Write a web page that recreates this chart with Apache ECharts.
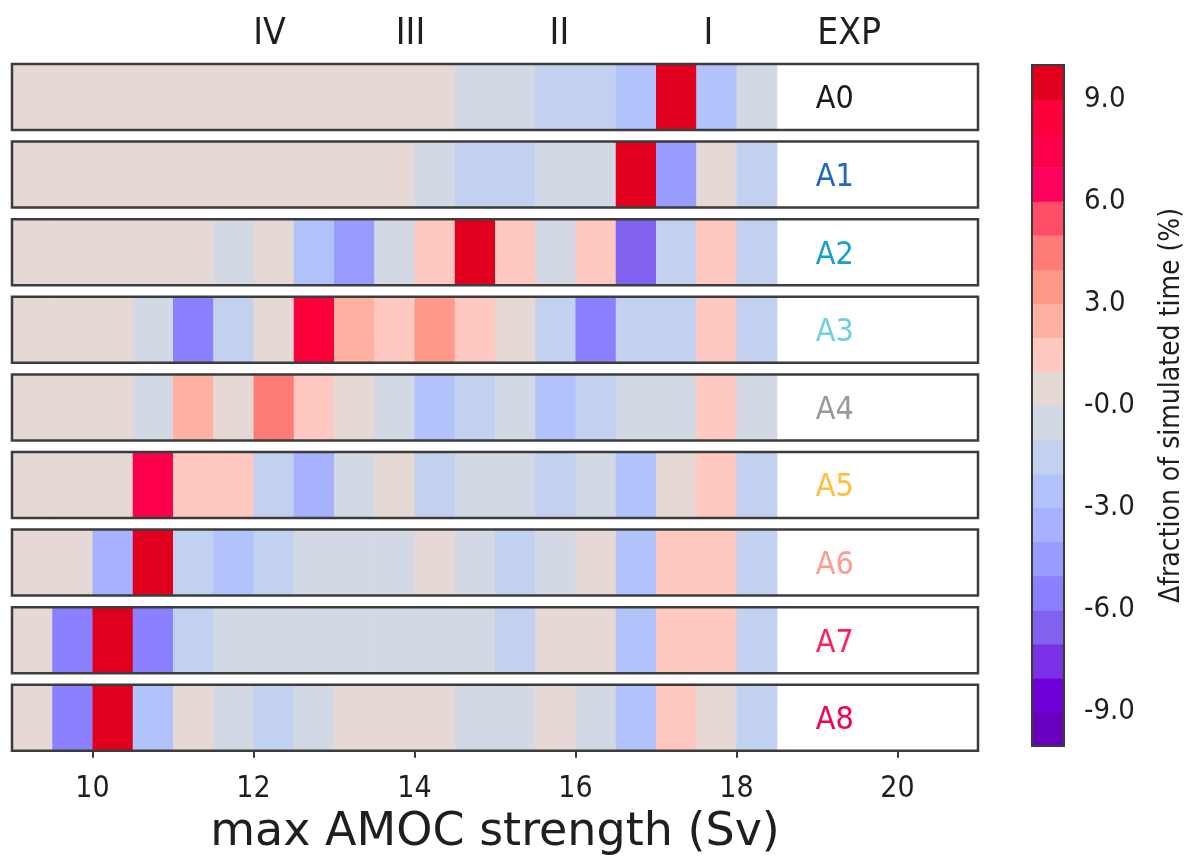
<!DOCTYPE html>
<html>
<head>
<meta charset="utf-8">
<title>max AMOC strength</title>
<script src="https://cdn.jsdelivr.net/npm/echarts@6/dist/echarts.min.js"></script>
<style>
  html, body { margin: 0; padding: 0; background: #ffffff; }
  #chart { width: 1192px; height: 859px; }
</style>
</head>
<body>
<div id="chart"></div>
<script>
// Experiments, one strip each, top to bottom
const experiments = ['A0', 'A1', 'A2', 'A3', 'A4', 'A5', 'A6', 'A7', 'A8'];
const experimentColors = ['#1a1a1a', '#2166c2', '#179fd2', '#6fd0e2', '#9a9a9a',
                          '#ffbf3c', '#ff9c8e', '#ff1f5c', '#f5004c'];

// Left edges of the 0.5 Sv bins of max AMOC strength
const binStarts = [9, 9.5, 10, 10.5, 11, 11.5, 12, 12.5, 13, 13.5,
                   14, 14.5, 15, 15.5, 16, 16.5, 17, 17.5, 18];
const binWidth = 0.5;

// Change of the fraction of simulated time spent in each bin (%)
const valsA0 = [0.4, 0.4, 0.4, 0.4, 0.4, 0.4, 0.4, 0.4, 0.4, 0.4, 0.4, -0.4, -0.4, -1.5, -1.5, -2.5, 9.5, -2.5, -0.4];
const valsA1 = [0.4, 0.4, 0.4, 0.4, 0.4, 0.4, 0.4, 0.4, 0.4, 0.4, -0.4, -1.5, -1.5, -0.4, -0.4, 9.5, -4.5, 0.4, -1.5];
const valsA2 = [0.4, 0.4, 0.4, 0.4, 0.4, -0.4, 0.4, -2.5, -4.5, -0.4, 1.5, 9.5, 1.5, -0.4, 1.5, -6.5, -1.5, 1.5, -1.5];
const valsA3 = [0.4, 0.4, 0.4, -0.4, -5.5, -1.5, 0.4, 8.5, 2.5, 1.5, 3.5, 1.5, 0.4, -1.5, -5.5, -1.5, -1.5, 1.5, -1.5];
const valsA4 = [0.4, 0.4, 0.4, -0.4, 2.5, 0.4, 4.5, 1.5, 0.4, -0.4, -2.5, -1.5, -0.4, -2.5, -1.5, -0.4, -0.4, 1.5, -0.4];
const valsA5 = [0.4, 0.4, 0.4, 7.5, 1.5, 1.5, -1.5, -3.5, -0.4, 0.4, -1.5, -0.4, -0.4, -1.5, -0.4, -2.5, 0.4, 1.5, -1.5];
const valsA6 = [0.4, 0.4, -3.5, 9.5, -1.5, -2.5, -1.5, -0.4, -0.4, -0.4, 0.4, -0.4, -1.5, -0.4, 0.4, -2.5, 1.5, 1.5, -1.5];
const valsA7 = [0.4, -5.5, 9.5, -5.5, -1.5, -0.4, -0.4, -0.4, -0.4, -0.4, -0.4, -0.4, -1.5, 0.4, 0.4, -2.5, 1.5, 1.5, -1.5];
const valsA8 = [0.4, -5.5, 9.5, -2.5, 0.4, -0.4, -1.5, -0.4, 0.4, 0.4, 0.4, -0.4, -0.4, 0.4, -0.4, -2.5, 1.5, 0.4, -1.5];
const rowValues = [valsA0, valsA1, valsA2, valsA3, valsA4, valsA5, valsA6, valsA7, valsA8];

// Circulation regimes written above the strips, placed on the Sv axis
const regimeLabels = ['IV', 'III', 'II', 'I', 'EXP'];
const regimeSv = [12.2, 13.95, 15.8, 17.65, 19.4];
const expLabelSv = 19.22;

// Discrete colour levels, 1 % wide, from -10 to 10
const levelEdges = [-10, -9, -8, -7, -6, -5, -4, -3, -2, -1, 0, 1, 2, 3, 4, 5, 6, 7, 8, 9, 10];
const levelColors = ['#6a00bf', '#7000d8', '#7a30e4', '#8062ee', '#8b80ff', '#989cff', '#a6b1ff',
                     '#b2c3fc', '#c2d1f0', '#d3d9e4', '#e6d8d4', '#ffc8c0', '#ffb2a2', '#ff9a8a',
                     '#ff7b78', '#ff4f68', '#ff005d', '#fe004b', '#fd003c', '#e0001e'];

// Axis ticks
const svTicks = [10, 12, 14, 16, 18, 20];
const cbarTicks = [-9, -6, -3, 0, 3, 6, 9];

const FONT = 'DejaVu Sans';
const TICK_FONT = '"DejaVu Sans Condensed", "DejaVu Sans", sans-serif';
const INK = '#1f1f1f';
const FRAME = '#3c3c3c';

const rowTop = 64, rowPitch = 77.6, rowHeight = 66;
const plotLeft = 12, plotWidth = 966;

function renderCell(params, api) {
  const x0 = api.value(0);
  const a = api.coord([x0, 1]);
  const b = api.coord([x0 + binWidth, 0]);
  return {
    type: 'rect',
    shape: { x: a[0], y: a[1], width: b[0] - a[0] + 0.6, height: b[1] - a[1] },
    style: { fill: api.visual('color') }
  };
}

function makeFrameRenderer(lineWidth, label, labelColor) {
  return function (params, api) {
    const cs = params.coordSys;
    const children = [{
      type: 'rect',
      shape: { x: cs.x, y: cs.y, width: cs.width, height: cs.height },
      style: { fill: null, stroke: FRAME, lineWidth: lineWidth }
    }];
    if (label) {
      const p = api.coord([expLabelSv, 0.5]);
      children.push({
        type: 'text',
        x: p[0], y: p[1] + 3,
        style: {
          text: label, fill: labelColor, font: '32px ' + TICK_FONT,
          align: 'center', verticalAlign: 'middle'
        }
      });
    }
    return { type: 'group', children: children };
  };
}

function renderRegime(params, api) {
  const cs = params.coordSys;
  const p = api.coord([api.value(0), 0.5]);
  return {
    type: 'text',
    x: p[0], y: cs.y - 30,
    style: {
      text: regimeLabels[params.dataIndex], fill: INK, font: '37px ' + TICK_FONT,
      align: 'center', verticalAlign: 'middle'
    }
  };
}

function renderLevel(params, api) {
  const v = api.value(1);
  const a = api.coord([0, v + 0.5]);
  const b = api.coord([1, v - 0.5]);
  return {
    type: 'rect',
    shape: { x: a[0], y: a[1], width: b[0] - a[0], height: b[1] - a[1] + 0.6 },
    style: { fill: api.visual('color') }
  };
}

const grids = [], xAxes = [], yAxes = [], series = [], colourSeries = [];

experiments.forEach(function (name, i) {
  const last = i === experiments.length - 1;
  grids.push({ left: plotLeft, width: plotWidth, top: rowTop + i * rowPitch, height: rowHeight });
  xAxes.push({
    type: 'value', gridIndex: i, min: 9, max: 21, show: last,
    axisLine: { show: false },
    splitLine: { show: false },
    axisTick: { show: last, customValues: svTicks, length: 7, lineStyle: { color: FRAME, width: 2 } },
    axisLabel: { show: last, customValues: svTicks, fontSize: 30, color: INK, margin: 23, fontFamily: TICK_FONT },
    name: last ? 'max AMOC strength (Sv)' : '',
    nameLocation: 'middle', nameGap: 59,
    nameTextStyle: { fontSize: 46, color: INK, fontFamily: FONT }
  });
  yAxes.push({ type: 'value', gridIndex: i, min: 0, max: 1, show: false });

  colourSeries.push(series.length);
  series.push({
    type: 'custom', name: name, xAxisIndex: i, yAxisIndex: i,
    data: rowValues[i].map(function (v, j) { return [binStarts[j], v]; }),
    renderItem: renderCell, silent: true, z: 2
  });
  series.push({
    type: 'custom', xAxisIndex: i, yAxisIndex: i, data: [[0, 0]],
    renderItem: makeFrameRenderer(2.5, name, experimentColors[i]), silent: true, z: 3
  });
});

// Regime labels above the first strip
series.push({
  type: 'custom', xAxisIndex: 0, yAxisIndex: 0,
  data: regimeSv.map(function (x) { return [x, 0]; }),
  renderItem: renderRegime, silent: true, z: 3
});

// Colour bar
const cb = experiments.length;
grids.push({ left: 1032, width: 32, top: 65, height: 681 });
xAxes.push({ type: 'value', gridIndex: cb, min: 0, max: 1, show: false });
yAxes.push({
  type: 'value', gridIndex: cb, min: -10, max: 10, position: 'right',
  axisLine: { show: false }, splitLine: { show: false },
  axisTick: { show: true, customValues: cbarTicks, length: 7, lineStyle: { color: FRAME, width: 2 } },
  axisLabel: {
    customValues: cbarTicks, fontSize: 29, color: INK, margin: 20, fontFamily: TICK_FONT,
    formatter: function (v) { return v === 0 ? '-0.0' : v.toFixed(1); }
  },
  name: 'Δfraction of simulated time (%)', nameLocation: 'middle', nameRotate: 90, nameGap: 94,
  nameTextStyle: { fontSize: 28, color: INK, fontFamily: TICK_FONT }
});
const levelMids = levelColors.map(function (c, k) { return (levelEdges[k] + levelEdges[k + 1]) / 2; });
colourSeries.push(series.length);
series.push({
  type: 'custom', xAxisIndex: cb, yAxisIndex: cb,
  data: levelMids.map(function (m) { return [0, m]; }),
  renderItem: renderLevel, silent: true, z: 2
});
series.push({
  type: 'custom', xAxisIndex: cb, yAxisIndex: cb, data: [[0, 0]],
  renderItem: makeFrameRenderer(2, null, null), silent: true, z: 3
});

const pieces = levelColors.map(function (c, k) {
  return { gte: levelEdges[k], lt: levelEdges[k + 1], color: c };
});

const chart = echarts.init(document.getElementById('chart'), null, { renderer: 'canvas' });
chart.setOption({
  backgroundColor: '#ffffff',
  animation: false,
  textStyle: { fontFamily: FONT },
  grid: grids,
  xAxis: xAxes,
  yAxis: yAxes,
  visualMap: {
    type: 'piecewise', show: false, dimension: 1,
    seriesIndex: colourSeries, pieces: pieces
  },
  series: series
});
</script>
</body>
</html>
